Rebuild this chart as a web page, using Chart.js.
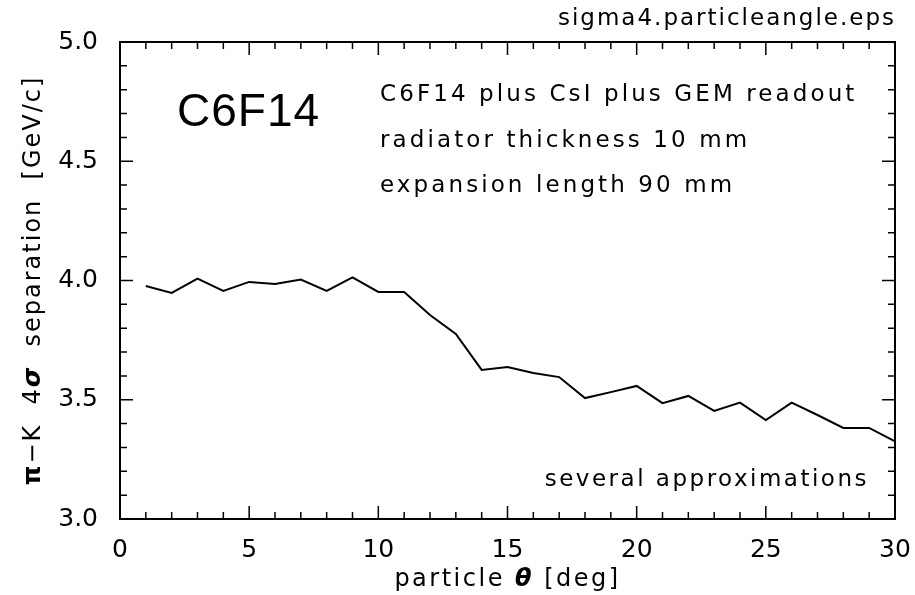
<!DOCTYPE html>
<html>
<head>
<meta charset="utf-8">
<script src="https://cdn.jsdelivr.net/npm/chart.js@4"></script>
<style>
  html, body { margin: 0; padding: 0; background: #fff; }
  #wrap { width: 915px; height: 595px; }
</style>
</head>
<body>
<div id="wrap"><canvas id="chart" width="915" height="595"></canvas></div>
<script>
// particle angle in degrees
const angles = [1, 2, 3, 4, 5, 6, 7, 8, 9, 10, 11, 12, 13, 14, 15, 16, 17, 18, 19, 20,
                21, 22, 23, 24, 25, 26, 27, 28, 29, 30];
// pi-K 4 sigma separation [GeV/c]
const separation = [3.977, 3.948, 4.008, 3.956, 3.994, 3.985, 4.004, 3.956, 4.013, 3.952,
                    3.952, 3.855, 3.776, 3.625, 3.637, 3.612, 3.595, 3.507, 3.532, 3.558,
                    3.486, 3.516, 3.453, 3.488, 3.415, 3.488, 3.436, 3.382, 3.382, 3.325];
const xTicks = [0, 5, 10, 15, 20, 25, 30];
const yTicks = [3.0, 3.5, 4.0, 4.5, 5.0];
const infoLines = ['C6F14 plus CsI plus GEM readout', 'radiator thickness 10 mm', 'expansion length 90 mm'];

const FONT = '"DejaVu Sans", sans-serif';

// draws text made of several pieces with different fonts
function drawPieces(ctx, pieces, x, y, align) {
    let total = 0;
    pieces.forEach(p => { ctx.font = p.font; total += ctx.measureText(p.text).width; });
    let cx = align === 'center' ? x - total / 2 : x;
    ctx.textAlign = 'left';
    pieces.forEach(p => {
        ctx.font = p.font;
        ctx.fillText(p.text, cx, y);
        cx += ctx.measureText(p.text).width;
    });
}

const framePlugin = {
    id: 'frame',
    afterDraw(chart) {
        const ctx = chart.ctx;
        const a = chart.chartArea;
        const xs = chart.scales.x, ys = chart.scales.y;
        ctx.save();
        ctx.strokeStyle = '#000';
        ctx.lineWidth = 2;
        ctx.strokeRect(a.left, a.top, a.right - a.left, a.bottom - a.top);

        // inward tick marks on all four sides
        ctx.lineWidth = 1.5;
        ctx.beginPath();
        for (let v = 0; v <= 30; v++) {
            const px = xs.getPixelForValue(v);
            const len = v % 5 === 0 ? 13 : 7;
            ctx.moveTo(px, a.bottom); ctx.lineTo(px, a.bottom - len);
            ctx.moveTo(px, a.top); ctx.lineTo(px, a.top + len);
        }
        for (let i = 0; i <= 20; i++) {
            const v = 3 + i * 0.1;
            const py = ys.getPixelForValue(v);
            const len = i % 5 === 0 ? 13 : 7;
            ctx.moveTo(a.left, py); ctx.lineTo(a.left + len, py);
            ctx.moveTo(a.right, py); ctx.lineTo(a.right - len, py);
        }
        ctx.stroke();

        ctx.fillStyle = '#000';
        ctx.textBaseline = 'alphabetic';

        // file name top right
        ctx.font = '23px ' + FONT;
        ctx.letterSpacing = '2px';
        ctx.textAlign = 'right';
        ctx.fillText('sigma4.particleangle.eps', 896, 25);

        // big label
        ctx.font = '46px "Liberation Sans", Arial, sans-serif';
        ctx.letterSpacing = '1px';
        ctx.textAlign = 'left';
        ctx.fillText('C6F14', 177, 126);

        // info lines
        ctx.font = '23px ' + FONT;
        ctx.letterSpacing = '3.1px';
        infoLines.forEach((t, i) => ctx.fillText(t, 380, 101 + i * 45.5));
        ctx.textAlign = 'right';
        ctx.letterSpacing = '2.5px';
        ctx.fillText('several approximations', 869, 486);

        // x axis title
        ctx.letterSpacing = '2.5px';
        drawPieces(ctx, [
            { text: 'particle ', font: '24px ' + FONT },
            { text: 'θ', font: 'italic bold 24px ' + FONT },
            { text: ' [deg]', font: '24px ' + FONT }
        ], xs.getPixelForValue(15), 586, 'center');

        // y axis title
        ctx.letterSpacing = '2px';
        ctx.translate(40, ys.getPixelForValue(4.0));
        ctx.rotate(-Math.PI / 2);
        drawPieces(ctx, [
            { text: 'π', font: 'bold 25px ' + FONT },
            { text: '−K  4', font: '24px ' + FONT },
            { text: 'σ', font: 'bold italic 25px ' + FONT },
            { text: '  separation  [GeV/c]', font: '24px ' + FONT }
        ], 0, 0, 'center');
        ctx.restore();
    }
};

new Chart(document.getElementById('chart'), {
    type: 'line',
    data: {
        datasets: [{
            data: angles.map((a, i) => ({ x: a, y: separation[i] })),
            borderColor: '#000',
            borderWidth: 2,
            pointRadius: 0,
            tension: 0,
            fill: false
        }]
    },
    options: {
        responsive: false,
        animation: false,
        layout: { padding: { top: 42, right: 20, left: 0, bottom: 0 } },
        plugins: { legend: { display: false }, tooltip: { enabled: false } },
        scales: {
            x: {
                type: 'linear',
                min: 0, max: 30,
                afterBuildTicks: s => { s.ticks = xTicks.map(v => ({ value: v })); },
                afterFit: s => { s.height = 76; s.paddingLeft = 0; s.paddingRight = 0; },
                grid: { display: false, drawTicks: false },
                border: { display: false },
                ticks: {
                    color: '#000',
                    padding: 16,
                    maxRotation: 0,
                    font: { family: 'DejaVu Sans', size: 25 },
                    callback: v => String(v)
                }
            },
            y: {
                type: 'linear',
                min: 3, max: 5,
                afterBuildTicks: s => { s.ticks = yTicks.map(v => ({ value: v })); },
                afterFit: s => { s.width = 120; s.paddingTop = 0; s.paddingBottom = 0; },
                grid: { display: false, drawTicks: false },
                border: { display: false },
                ticks: {
                    color: '#000',
                    padding: 22,
                    font: { family: 'DejaVu Sans', size: 25 },
                    callback: v => Number(v).toFixed(1)
                }
            }
        }
    },
    plugins: [framePlugin]
});
</script>
</body>
</html>
